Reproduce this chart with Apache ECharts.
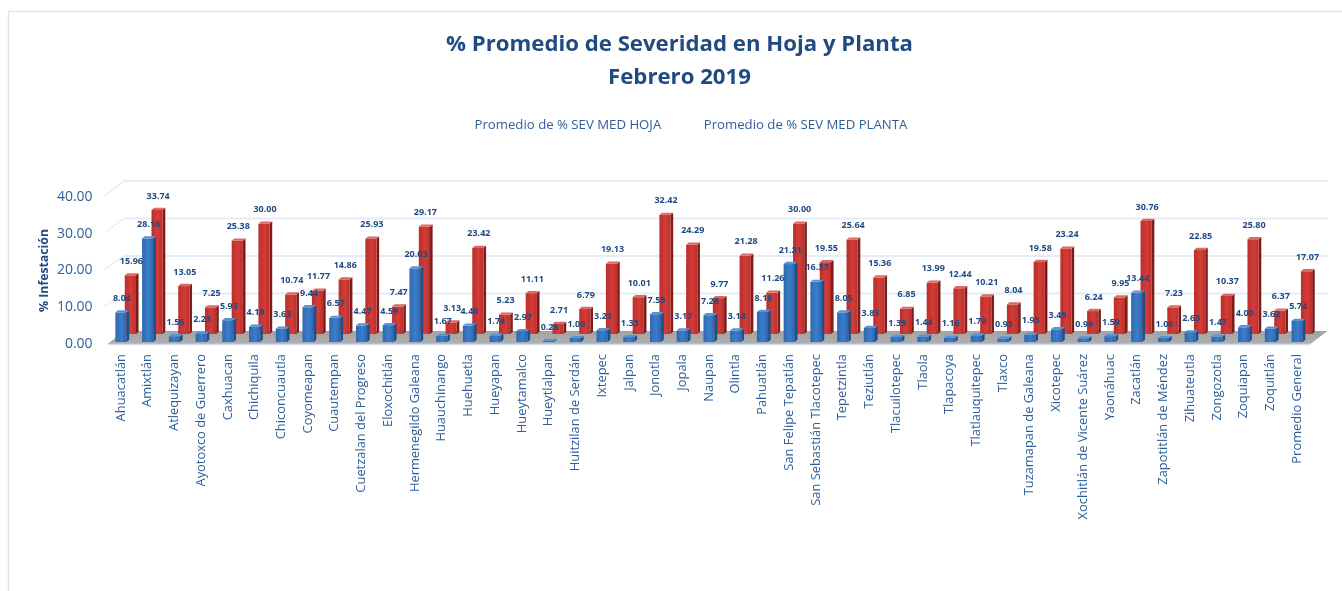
<!DOCTYPE html>
<html><head><meta charset="utf-8">
<style>html,body{margin:0;padding:0;background:#fff}#c{width:1342px;height:591px}</style>
<script src="https://cdn.jsdelivr.net/npm/echarts@6/dist/echarts.min.js"></script>
</head><body><div id="c"></div>
<script>
const categories = ["Ahuacatlán","Amixtlán","Atlequizayan","Ayotoxco de Guerrero","Caxhuacan","Chichiquila","Chiconcuautla","Coyomeapan","Cuautempan","Cuetzalan del Progreso","Eloxochitlán","Hermenegildo Galeana","Huauchinango","Huehuetla","Hueyapan","Hueytamalco","Hueytlalpan","Huitzilan de Serdán","Ixtepec","Jalpan","Jonotla","Jopala","Naupan","Olintla","Pahuatlán","San Felipe Tepatlán","San Sebastián Tlacotepec","Tepetzintla","Teziutlán","Tlacuilotepec","Tlaola","Tlapacoya","Tlatlauquitepec","Tlaxco","Tuzamapan de Galeana","Xicotepec","Xochitlán de Vicente Suárez","Yaonáhuac","Zacatlán","Zapotitlán de Méndez","Zihuateutla","Zongozotla","Zoquiapan","Zoquitlán","Promedio General"];
const hoja = [8.04,28.16,1.56,2.23,5.93,4.18,3.63,9.44,6.57,4.47,4.59,20.03,1.67,4.46,1.74,2.97,0.28,1.06,3.21,1.33,7.55,3.17,7.28,3.14,8.18,21.21,16.37,8.05,3.83,1.35,1.44,1.16,1.79,0.95,1.95,3.45,0.99,1.59,13.44,1.06,2.63,1.47,4.00,3.62,5.74];
const planta = [15.96,33.74,13.05,7.25,25.38,30.00,10.74,11.77,14.86,25.93,7.47,29.17,3.13,23.42,5.23,11.11,2.71,6.79,19.13,10.01,32.42,24.29,9.77,21.28,11.26,30.00,19.55,25.64,15.36,6.85,13.99,12.44,10.21,8.04,19.58,23.24,6.24,9.95,30.76,7.23,22.85,10.37,25.80,6.37,17.07];
const yTicks = [10,20,30,40];
const titleText = "% Promedio de Severidad en Hoja y Planta\nFebrero 2019";
const axisName = "% Infestación";
const nameHoja = "Promedio de % SEV MED HOJA";
const namePlanta = "Promedio de % SEV MED PLANTA";

const FONT = '"Open Sans"';
const DARK = '#1f4a82', MID = '#2f5f99';
const lin = (a,b,c)=>({type:'linear',x:0,y:0,x2:1,y2:0,colorStops:[{offset:0,color:a},{offset:.55,color:b},{offset:1,color:c}]});
const styles = {
  hoja:{front:lin('#2d69b0','#3c7dca','#2c66ad'),side:'#1d4f88',top:'#5a93d3',dx:0,dy:-2,lab:-14},
  planta:{front:lin('#b92f2b','#d43c37','#bb302c'),side:'#7d1c1a',top:'#d96a64',dx:9.4,dy:-10,lab:-14}
};
function bar3d(st,z){
  return function(params,api){
    const i=api.value(0), v=api.value(1);
    const top=api.coord([i,v]), base=api.coord([i,0]);
    const hw=5.6, sx=2.6, sy=2.2;
    const x=top[0]+st.dx, y1=top[1]+st.dy, y0=base[1]+st.dy;
    const poly=(pts,fill)=>({type:'polygon',z2:z,shape:{points:pts},style:{fill:fill}});
    return {type:'group',children:[
      poly([[x+hw,y1],[x+hw+sx,y1-sy],[x+hw+sx,y0-sy],[x+hw,y0]],st.side),
      poly([[x-hw,y1],[x+hw,y1],[x+hw,y0],[x-hw,y0]],st.front),
      poly([[x-hw,y1],[x-hw+sx,y1-sy],[x+hw+sx,y1-sy],[x+hw,y1]],st.top),
      {type:'text',z2:100,style:{text:v.toFixed(2),x:x+1,y:y1+st.lab,align:'center',verticalAlign:'middle',
        font:'bold 9px '+FONT,fill:DARK}}
    ]};
  };
}
function floor(params,api){
  const band=api.size([1,0])[0];
  const a=api.coord([0,0]), b=api.coord([categories.length-1,0]);
  const l=a[0]-band/2, r=b[0]+band/2, y=a[1];
  return {type:'group',children:[
    {type:'polygon',shape:{points:[[l,y],[r,y],[r+17,y-13],[l+16,y-13]]},
     style:{fill:{type:'linear',x:0,y:0,x2:0,y2:1,colorStops:[{offset:0,color:'#a3a3a3'},{offset:1,color:'#b0b0b0'}]}}},
    {type:'line',shape:{x1:l,y1:y+.5,x2:r,y2:y+.5},style:{stroke:'#d3dff0',lineWidth:1.5}}
  ]};
}
/* back wall: each gridline sits up and to the right of its front-axis tick, joined by a diagonal */
function wall(params,api){
  const t=api.value(1), band=api.size([1,0])[0];
  const a=api.coord([0,t]), b=api.coord([categories.length-1,t]);
  const l=a[0]-band/2, r=b[0]+band/2, y=a[1]-13-t*0.075;
  return {type:'group',children:[
    {type:'line',shape:{x1:l-3,y1:a[1]-1,x2:l+16,y2:y},style:{stroke:'#e3eaf6',lineWidth:1.2}},
    {type:'line',shape:{x1:l+16,y1:y,x2:r+17,y2:y},style:{stroke:'#e6ebf7',lineWidth:2}}
  ]};
}
const chart=echarts.init(document.getElementById('c'));
chart.setOption({
  animation:false,backgroundColor:'#fff',
  textStyle:{fontFamily:FONT},
  title:{text:titleText,left:674.5,top:23,textAlign:'center',
    textStyle:{fontFamily:FONT,fontWeight:'bold',fontSize:22.2,color:DARK,lineHeight:33}},
  legend:{left:464.5,top:114,itemGap:37.5,itemWidth:0,itemHeight:0,
    data:[nameHoja,namePlanta],selectedMode:false,
    textStyle:{fontFamily:FONT,fontSize:13.2,color:MID,padding:0}},
  graphic:[
    {type:'line',silent:true,shape:{x1:8,y1:11.5,x2:1342,y2:11.5},style:{stroke:'#dfe7ee',lineWidth:1.5}},
    {type:'line',silent:true,shape:{x1:8.5,y1:11,x2:8.5,y2:591},style:{stroke:'#d6e6f5',lineWidth:1.5}}
  ],
  grid:{left:107.6,right:31.5,top:197,bottom:247},
  xAxis:{type:'category',data:categories,axisLine:{show:false},axisTick:{show:false},
     axisLabel:{interval:0,rotate:90,margin:10,fontFamily:FONT,fontSize:12.9,color:MID}},
  yAxis:{type:'value',min:0,max:40,interval:10,splitLine:{show:false},axisLine:{show:false},axisTick:{show:false},
     axisLabel:{margin:15,fontFamily:FONT,fontSize:14,color:MID,formatter:v=>v.toFixed(2)},
     name:axisName,nameLocation:'middle',nameGap:57,nameRotate:90,nameMoveOverlap:false,
     nameTextStyle:{fontFamily:FONT,fontWeight:'bold',fontSize:12.3,color:DARK}},
  series:[
    {type:'custom',name:'wall',z:1,silent:true,renderItem:wall,data:yTicks.map(t=>[0,t]),encode:{x:0,y:1}},
    {type:'custom',name:'floor',z:1,silent:true,renderItem:floor,data:[[0,0]],encode:{x:0,y:1}},
    {type:'custom',name:namePlanta,z:3,renderItem:bar3d(styles.planta,1),
     itemStyle:{color:'#c9332f'},data:planta.map((v,i)=>[i,v]),encode:{x:0,y:1}},
    {type:'custom',name:nameHoja,z:3,renderItem:bar3d(styles.hoja,2),
     itemStyle:{color:'#3474bd'},data:hoja.map((v,i)=>[i,v]),encode:{x:0,y:1}}
  ]
});
</script></body></html>
